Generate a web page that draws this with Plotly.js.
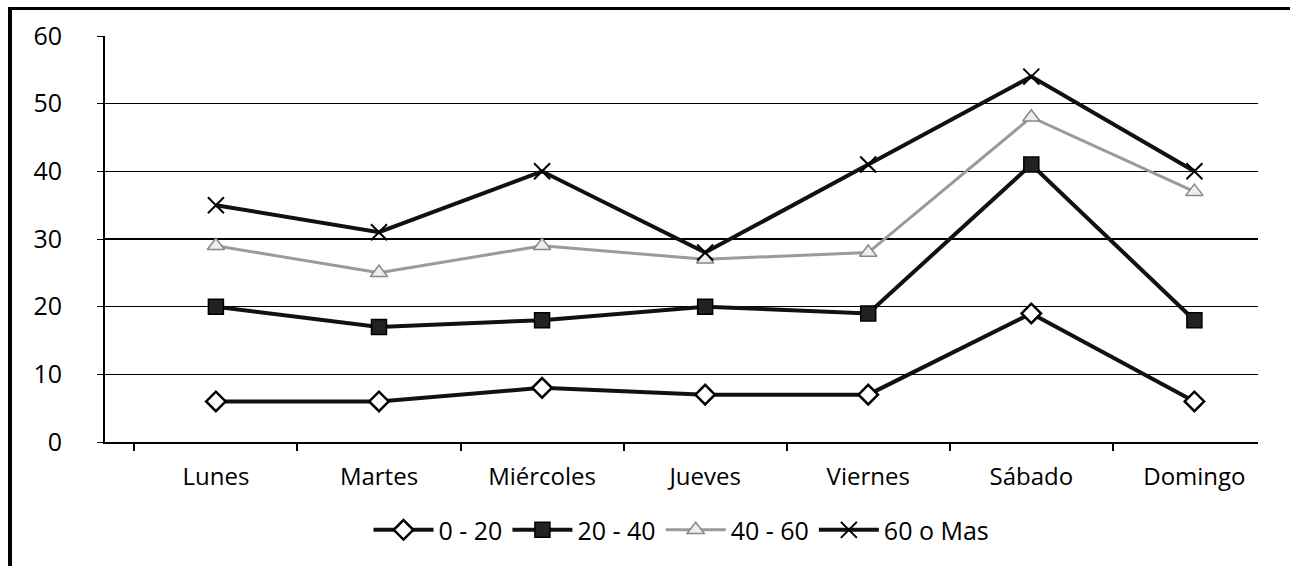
<!DOCTYPE html>
<html>
<head>
<meta charset="utf-8">
<script src="https://cdn.plot.ly/plotly-3.0.1.min.js"></script>
<style>
html,body{margin:0;padding:0;background:#fff;}
#chart{width:1290px;height:566px;position:relative;}
#frame{position:absolute;left:8px;top:7px;width:1290px;height:600px;border-left:4px solid #000;border-top:3px solid #000;pointer-events:none;}
</style>
</head>
<body>
<div id="chart"></div>
<div id="frame"></div>
<script>
const categories = ["Lunes","Martes","Miércoles","Jueves","Viernes","Sábado","Domingo"];
const seriesNames = ["0 - 20","20 - 40","40 - 60","60 o Mas"];
const s0_20 = [6, 6, 8, 7, 7, 19, 6];
const s20_40 = [20, 17, 18, 20, 19, 41, 18];
const s40_60 = [29, 25, 29, 27, 28, 48, 37];
const s60mas = [35, 31, 40, 28, 41, 54, 40];
const yTicks = [0, 10, 20, 30, 40, 50, 60];

const traces = [
  {x: categories, y: s0_20, name: seriesNames[0], type: 'scatter', mode: 'lines+markers',
   line: {color: '#111', width: 4},
   marker: {symbol: 'diamond', size: 15, color: '#fff', line: {color: '#000', width: 2.5}}},
  {x: categories, y: s20_40, name: seriesNames[1], type: 'scatter', mode: 'lines+markers',
   line: {color: '#111', width: 4},
   marker: {symbol: 'square', size: 15, color: '#222', line: {color: '#000', width: 1.5}}},
  {x: categories, y: s40_60, name: seriesNames[2], type: 'scatter', mode: 'lines+markers',
   line: {color: '#9a9a9a', width: 3},
   marker: {symbol: 'triangle-up', size: 15, color: '#eee', line: {color: '#888', width: 1.5}}},
  {x: categories, y: s60mas, name: seriesNames[3], type: 'scatter', mode: 'lines+markers',
   line: {color: '#111', width: 4},
   marker: {symbol: 'x-thin', size: 16, color: '#000', line: {color: '#000', width: 2}}}
];

const layout = {
  width: 1290, height: 566,
  paper_bgcolor: '#fff', plot_bgcolor: '#fff',
  margin: {l: 105, r: 32, t: 36, b: 124},
  font: {family: 'Open Sans, sans-serif', size: 25, color: '#000'},
  showlegend: true,
  legend: {orientation: 'h', x: 0.5, xanchor: 'center', y: -0.217, yanchor: 'middle',
           font: {size: 25, color: '#000'}, itemwidth: 60, tracegroupgap: 0},
  xaxis: {type: 'category', range: [-0.68, 6.39], showgrid: false, showline: true, linecolor: '#000', linewidth: 2,
          ticks: 'outside', tickson: 'boundaries', ticklen: 7, tickcolor: '#000', tickwidth: 2,
          tickfont: {size: 24}, ticklabelstandoff: 12, zeroline: false},
  yaxis: {range: [0, 60], tickvals: yTicks, showgrid: true, gridcolor: '#000', gridwidth: 1.2,
          showline: true, linecolor: '#000', linewidth: 2, ticks: 'outside', ticklen: 6,
          tickcolor: '#000', tickfont: {size: 25}, ticklabelstandoff: 30, zeroline: false}
};

Plotly.newPlot('chart', traces, layout, {displayModeBar: false, staticPlot: true});
</script>
</body>
</html>
